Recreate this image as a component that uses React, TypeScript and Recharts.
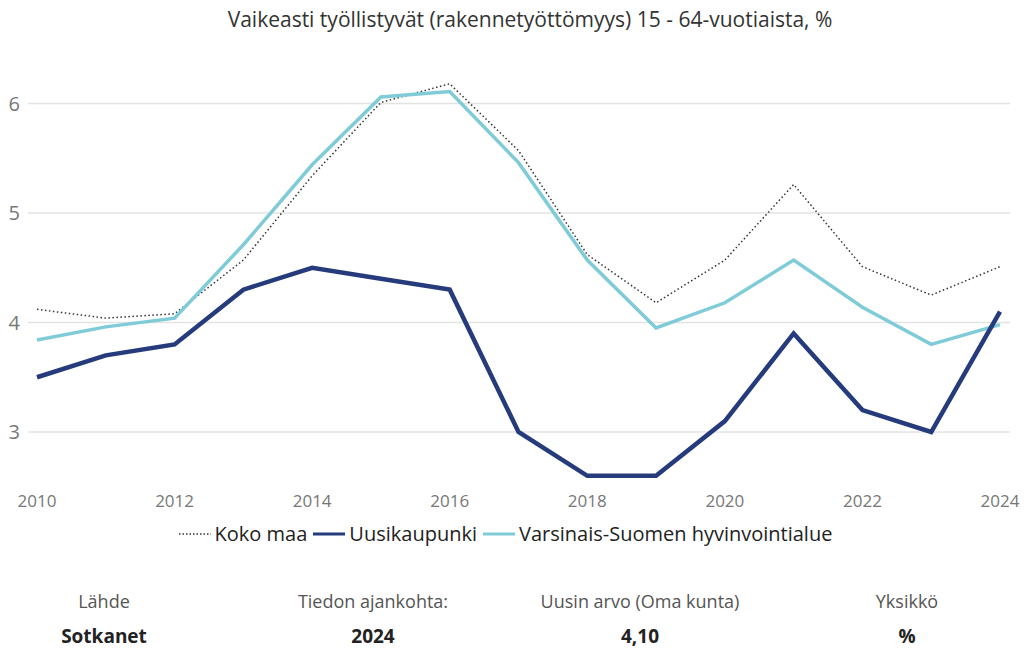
import React from "react";
import { CartesianGrid, Legend, Line, LineChart, XAxis, YAxis } from "recharts";

const years = [2010, 2011, 2012, 2013, 2014, 2015, 2016, 2017, 2018, 2019, 2020, 2021, 2022, 2023, 2024];
const kokoMaa = [4.12, 4.04, 4.08, 4.57, 5.34, 6.01, 6.18, 5.57, 4.62, 4.18, 4.57, 5.26, 4.51, 4.25, 4.51];
const uusikaupunki = [3.5, 3.7, 3.8, 4.3, 4.5, 4.4, 4.3, 3.0, 2.6, 2.6, 3.1, 3.9, 3.2, 3.0, 4.1];
const varsinaisSuomi = [3.84, 3.96, 4.04, 4.71, 5.44, 6.06, 6.11, 5.46, 4.57, 3.95, 4.18, 4.57, 4.14, 3.8, 3.98];
const xTicks = [2010, 2012, 2014, 2016, 2018, 2020, 2022, 2024];
const yTicks = [3, 4, 5, 6];

const data = years.map((year, i) => ({
  year,
  koko: kokoMaa[i],
  uusi: uusikaupunki[i],
  vs: varsinaisSuomi[i]
}));

const font = "'Open Sans', 'Noto Sans', sans-serif";

const legendItems = [
  { name: "Koko maa", color: "#333333", dash: "1.5 2", width: 1.5 },
  { name: "Uusikaupunki", color: "#253b7c", dash: undefined, width: 3 },
  { name: "Varsinais-Suomen hyvinvointialue", color: "#7fcbd8", dash: undefined, width: 3 }
];

function LegendBox() {
  return (
    <div style={{ display: "flex", justifyContent: "center", alignItems: "center", gap: 5, fontFamily: font, fontSize: 20, color: "#222" }}>
      {legendItems.map((item) => (
        <span key={item.name} style={{ display: "inline-flex", alignItems: "center" }}>
          <svg width={34} height={10} style={{ marginRight: 3 }}>
            <line x1={1} y1={5} x2={33} y2={5} stroke={item.color} strokeWidth={item.width} strokeDasharray={item.dash} />
          </svg>
          {item.name}
        </span>
      ))}
    </div>
  );
}

const footer = [
  { label: "Lähde", value: "Sotkanet", x: 104 },
  { label: "Tiedon ajankohta:", value: "2024", x: 373 },
  { label: "Uusin arvo (Oma kunta)", value: "4,10", x: 640 },
  { label: "Yksikkö", value: "%", x: 907 }
];

export default function App() {
  return (
    <div style={{ position: "absolute", left: 0, top: 0, width: 1024, height: 649, background: "#fff", fontFamily: font }}>
      <div style={{ position: "absolute", top: 5, left: 18, width: 1024, textAlign: "center", fontSize: 21, color: "#333" }}>
        Vaikeasti työllistyvät (rakennetyöttömyys) 15 - 64-vuotiaista, %
      </div>
      <LineChart width={1024} height={560} data={data} margin={{ top: 48.75, right: 14, left: 0, bottom: 4 }}>
        <CartesianGrid vertical={false} horizontalValues={yTicks} stroke="#e3e3e3" strokeWidth={1.5} />
        <XAxis
          dataKey="year"
          type="number"
          domain={[2010, 2024]}
          ticks={xTicks}
          padding={{ left: 9, right: 10 }}
          axisLine={false}
          tickLine={false}
          height={33.25}
          tick={{ fill: "#777", fontSize: 17, fontFamily: font }}
          tickMargin={2}
        />
        <YAxis
          domain={[2.5, 6.5]}
          ticks={yTicks}
          width={28}
          axisLine={false}
          tickLine={false}
          tick={{ fill: "#777", fontSize: 20, fontFamily: font, dx: -2 }}
          tickMargin={0}
        />
        <Legend verticalAlign="bottom" height={36} content={() => <LegendBox />} />
        <Line dataKey="koko" name="Koko maa" stroke="#333" strokeWidth={1.5} strokeDasharray="1.5 2.5" dot={false} isAnimationActive={false} />
        <Line dataKey="vs" name="Varsinais-Suomen hyvinvointialue" stroke="#7fcbd8" strokeWidth={3.5} dot={false} isAnimationActive={false} />
        <Line dataKey="uusi" name="Uusikaupunki" stroke="#253b7c" strokeWidth={4.5} dot={false} isAnimationActive={false} />
      </LineChart>
      {footer.map((f) => (
        <React.Fragment key={f.label}>
          <div style={{ position: "absolute", top: 589, left: f.x - 150, width: 300, textAlign: "center", fontSize: 18, color: "#555" }}>{f.label}</div>
          <div style={{ position: "absolute", top: 623, left: f.x - 150, width: 300, textAlign: "center", fontSize: 19, fontWeight: 700, color: "#222" }}>{f.value}</div>
        </React.Fragment>
      ))}
    </div>
  );
}
